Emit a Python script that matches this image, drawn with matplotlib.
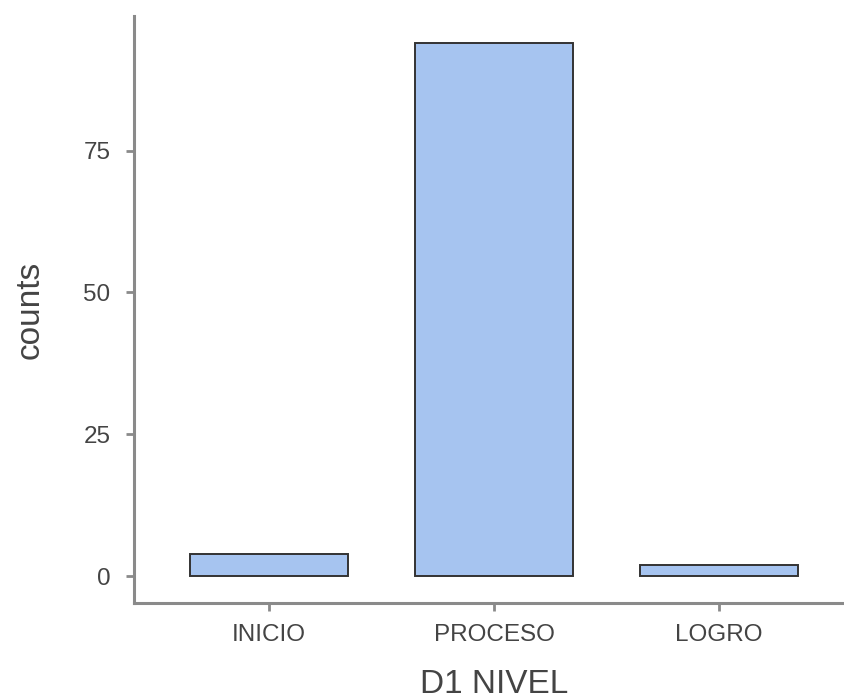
import matplotlib
matplotlib.use("Agg")
import matplotlib.pyplot as plt

# conteo de estudiantes por nivel (dimension 1)
niveles = ["INICIO", "PROCESO", "LOGRO"]
counts = [4, 94, 2]
y_ticks = [0, 25, 50, 75]

plt.rcParams['font.family'] = ['Liberation Sans', 'DejaVu Sans']

fill_col = '#a6c4f0'
edge_col = '#333333'
axis_col = '#8a8a8a'
text_col = '#444444'

fig = plt.figure(figsize=(8.45, 6.99), dpi=100)
# axis runs off the right edge like the exported plot
ax = fig.add_axes([134 / 845, 96 / 699, 720 / 845, 587 / 699])

x = list(range(len(niveles)))
ax.bar(x, counts, width=0.7, color=fill_col, edgecolor=edge_col, linewidth=1.4)

ax.set_xlim(-0.6, 2.6)
ymax = max(counts)
ax.set_ylim(-0.05 * ymax, ymax * 1.05)
ax.set_xticks(x)
ax.set_xticklabels(niveles)
ax.set_yticks(y_ticks)

for side in ['top', 'right']:
    ax.spines[side].set_visible(False)
for side in ['left', 'bottom']:
    ax.spines[side].set_color(axis_col)
    ax.spines[side].set_linewidth(2.2)

ax.tick_params(axis='both', colors=axis_col, width=2, length=6,
               labelcolor=text_col, labelsize=17.5)
ax.tick_params(axis='x', pad=9)
ax.tick_params(axis='y', pad=11)

ax.set_xlabel("D1 NIVEL", fontsize=24, color=text_col, labelpad=17)
ax.set_ylabel("counts", fontsize=24, color=text_col, labelpad=27)

fig.savefig("out.png", dpi=100)
